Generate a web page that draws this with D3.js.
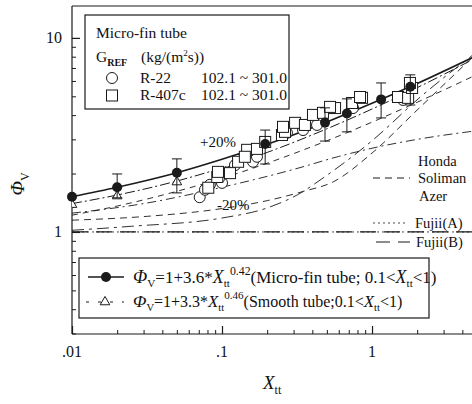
<!DOCTYPE html>
<html><head><meta charset="utf-8">
<script src="https://cdn.jsdelivr.net/npm/d3@7"></script>
<style>
body{margin:0;background:#fff}
svg{display:block}
text{font-family:"Liberation Serif","DejaVu Serif",serif;fill:#111}
</style>
</head><body>
<svg id="c" width="472" height="404"></svg>
<script>
// ---- tick labels ----
const xTickValues = [0.01, 0.1, 1];
const xTickLabels = [".01", ".1", "1"];
const yTickValues = [1, 10];
const yTickLabels = ["1", "10"];

// ---- correlation curves ----
const microX = [0.01, 0.02, 0.05, 0.1, 0.2, 0.5, 1, 2, 4.64];
const microY = [1.52, 1.70, 2.02, 2.37, 2.83, 3.69, 4.6, 5.82, 7.9];
const smoothX = [0.01, 0.02, 0.05, 0.1, 0.2, 0.5, 1, 2, 4.64];
const smoothY = [1.40, 1.55, 1.83, 2.14, 2.57, 3.40, 4.3, 5.54, 7.7];
const minus20X = [0.01, 0.02, 0.05, 0.1, 0.2, 0.5, 1, 2, 4.64];
const minus20Y = [1.22, 1.36, 1.62, 1.89, 2.26, 2.95, 3.68, 4.66, 6.3];
const hondaX = [0.01, 0.03, 0.1, 0.3, 0.6, 1, 2, 4.64];
const hondaY = [1.25, 1.40, 1.70, 2.10, 2.45, 2.70, 3.0, 3.3];
const solimanX = [0.01, 0.03, 0.1, 0.2, 0.35, 0.55, 1, 2, 4.64];
const solimanY = [1.15, 1.20, 1.32, 1.45, 1.62, 1.81, 2.55, 4.25, 7.9];
const azerX = [0.01, 0.025, 0.1, 0.2, 0.34, 0.45, 1, 2.1, 4.64];
const azerY = [1.02, 1.07, 1.18, 1.33, 1.60, 1.85, 2.95, 4.96, 8.1];
const fujiiAX = [0.01, 4.64];
const fujiiAY = [1.0, 1.0];
const fujiiBX = [0.01, 4.64];
const fujiiBY = [1.0, 1.0];

// ---- averaged points with error bars (micro-fin) ----
const markX = [0.01, 0.02, 0.05, 0.194, 0.486, 0.68, 1.15, 1.8];
const markY = [1.52, 1.70, 2.02, 2.84, 3.66, 4.08, 4.82, 5.6];
const errLo = [1.52, 1.50, 1.59, 2.24, 2.94, 3.28, 3.87, 4.51];
const errHi = [1.52, 1.99, 2.38, 3.35, 4.36, 4.85, 5.86, 6.45];
// smooth-tube triangles
const triX = [0.01, 0.02, 0.05];
const triY = [1.40, 1.55, 1.83];

// ---- experimental data ----
const r22X = [0.071, 0.077, 0.083, 0.10, 0.097, 0.113, 0.122, 0.128, 0.161, 0.171, 0.271, 0.347, 0.43, 0.747, 1.61];
const r22Y = [1.51, 1.65, 1.75, 1.79, 1.92, 2.04, 2.21, 2.35, 2.30, 2.44, 3.24, 3.35, 3.56, 4.35, 4.79];
const r407X = [0.081, 0.093, 0.094, 0.113, 0.128, 0.147, 0.142, 0.171, 0.194, 0.251, 0.263, 0.255, 0.307, 0.357, 0.404, 0.471, 0.567, 0.525, 0.736, 0.858, 0.832, 1.49, 1.74, 1.85, 1.79];
const r407Y = [1.69, 1.92, 2.04, 2.01, 2.30, 2.65, 2.44, 2.68, 2.91, 3.16, 3.28, 3.48, 3.65, 3.56, 4.01, 4.11, 4.35, 4.41, 4.62, 4.91, 4.96, 4.96, 4.91, 5.52, 5.86];

const svg = d3.select("#c");
const L = 72, R = 472, T = 6, B = 334;
const x = d3.scaleLog().domain([0.01, 4.64]).range([L, R]);
const y = d3.scaleLog().domain([0.298, 14.6]).range([B, T]);

svg.append("clipPath").attr("id", "clip").append("rect")
  .attr("x", L).attr("y", T).attr("width", R - L).attr("height", B - T);

const ink = "#1a1a1a";
// frame
svg.append("line").attr("x1", L).attr("x2", L).attr("y1", T).attr("y2", B).attr("stroke", ink).attr("stroke-width", 1.2);
svg.append("line").attr("x1", L).attr("x2", R).attr("y1", B).attr("y2", B).attr("stroke", ink).attr("stroke-width", 1.2);
svg.append("line").attr("x1", L).attr("x2", R).attr("y1", T).attr("y2", T).attr("stroke", ink).attr("stroke-width", 1.2);

// y axis (ticks inward)
const yMinor = [];
[0.1, 1, 10].forEach(d => { for (let k = 2; k <= 9; k++) { const v = d * k; if (v >= 0.3 && v <= 14.6) yMinor.push(v); } });
const gy = svg.append("g").attr("transform", `translate(${L},0)`)
  .call(d3.axisRight(y).tickValues(yMinor).tickSize(4).tickFormat(""));
gy.select(".domain").remove();
gy.selectAll("line").attr("stroke", ink);
const gy2 = svg.append("g").attr("transform", `translate(${L},0)`)
  .call(d3.axisRight(y).tickValues(yTickValues).tickSize(8).tickFormat(""));
gy2.select(".domain").remove();
gy2.selectAll("line").attr("stroke", ink).attr("stroke-width", 1.2);
svg.selectAll(".ylab").data(yTickValues).enter().append("text")
  .attr("x", 62).attr("y", d => y(d) + 5).attr("text-anchor", "end")
  .attr("font-size", 16).text((d, i) => yTickLabels[i]);

// x axis (ticks inward)
const xMinor = [];
[0.01, 0.1, 1].forEach(d => { for (let k = 2; k <= 9; k++) { const v = d * k; if (v <= 4.64) xMinor.push(v); } });
const gx = svg.append("g").attr("transform", `translate(0,${B})`)
  .call(d3.axisTop(x).tickValues(xMinor).tickSize(4).tickFormat(""));
gx.select(".domain").remove();
gx.selectAll("line").attr("stroke", ink);
const gx2 = svg.append("g").attr("transform", `translate(0,${B})`)
  .call(d3.axisTop(x).tickValues(xTickValues).tickSize(8).tickFormat(""));
gx2.select(".domain").remove();
gx2.selectAll("line").attr("stroke", ink).attr("stroke-width", 1.2);
svg.selectAll(".xlab").data(xTickValues).enter().append("text")
  .attr("x", d => x(d)).attr("y", 357).attr("text-anchor", "middle")
  .attr("font-size", 16).text((d, i) => xTickLabels[i]);

// curves
const plot = svg.append("g").attr("clip-path", "url(#clip)");
const lineGen = d3.line().x(d => x(d[0])).y(d => y(d[1])).curve(d3.curveMonotoneX);
function curve(xs, ys, dash, w) {
  plot.append("path").datum(xs.map((v, i) => [v, ys[i]]))
    .attr("d", lineGen).attr("fill", "none").attr("stroke", ink)
    .attr("stroke-width", w).attr("stroke-dasharray", dash);
}
curve(fujiiAX, fujiiAY, "2,3", 0.8);
curve(fujiiBX, fujiiBY, "16,8", 1.2);
curve(azerX, azerY, "12,5,3,5", 0.9);
curve(solimanX, solimanY, "7,5", 0.9);
curve(hondaX, hondaY, "9,4,2,4", 0.9);
curve(minus20X, minus20Y, "6,5", 0.9);
curve(smoothX, smoothY, "10,3,2,3", 1.0);
curve(microX, microY, null, 1.6);

// data points
plot.selectAll(".r22").data(r22X).enter().append("circle")
  .attr("cx", d => x(d)).attr("cy", (d, i) => y(r22Y[i])).attr("r", 5.5)
  .attr("fill", "#fff").attr("stroke", ink).attr("stroke-width", 1);
plot.selectAll(".r407").data(r407X).enter().append("rect")
  .attr("x", d => x(d) - 5.5).attr("y", (d, i) => y(r407Y[i]) - 5.5)
  .attr("width", 11).attr("height", 11)
  .attr("fill", "#fff").attr("stroke", ink).attr("stroke-width", 1);

// triangles
const triSym = d3.symbol().type(d3.symbolTriangle).size(40);
plot.selectAll(".tri").data(triX).enter().append("path")
  .attr("d", triSym).attr("transform", (d, i) => `translate(${x(d)},${y(triY[i]) + 1})`)
  .attr("fill", "#fff").attr("stroke", ink).attr("stroke-width", 1);

// error bars
markX.forEach((d, i) => {
  if (errHi[i] === errLo[i]) return;
  const cx = x(d);
  plot.append("line").attr("x1", cx).attr("x2", cx).attr("y1", y(errHi[i])).attr("y2", y(errLo[i])).attr("stroke", ink).attr("stroke-width", 1);
  [errHi[i], errLo[i]].forEach(v => plot.append("line").attr("x1", cx - 5).attr("x2", cx + 5).attr("y1", y(v)).attr("y2", y(v)).attr("stroke", ink).attr("stroke-width", 1));
});
svg.selectAll(".mk").data(markX).enter().append("circle")
  .attr("cx", d => x(d)).attr("cy", (d, i) => y(markY[i])).attr("r", 5)
  .attr("fill", ink);

// legend 1
const lg1 = svg.append("g");
lg1.append("rect").attr("x", 85).attr("y", 15).attr("width", 204).attr("height", 94)
  .attr("fill", "#fff").attr("stroke", ink).attr("stroke-width", 1.2);
lg1.append("text").attr("x", 96).attr("y", 38).attr("font-size", 15.5).text("Micro-fin tube");
const g2 = lg1.append("text").attr("x", 96).attr("y", 62).attr("font-size", 15.5);
g2.append("tspan").text("G");
g2.append("tspan").attr("font-size", 10).attr("dy", 4).attr("font-weight", "bold").text("REF");
g2.append("tspan").attr("dy", -4).attr("x", 141).text("(kg/(m");
g2.append("tspan").attr("font-size", 9).attr("dy", -6).text("2");
g2.append("tspan").attr("dy", 6).text("s))");
lg1.append("circle").attr("cx", 112).attr("cy", 78).attr("r", 5.5).attr("fill", "#fff").attr("stroke", ink);
lg1.append("text").attr("x", 140).attr("y", 83).attr("font-size", 15.5).text("R-22");
lg1.append("text").attr("x", 201).attr("y", 83).attr("font-size", 15.5).text("102.1 ~ 301.0");
lg1.append("rect").attr("x", 106.5).attr("y", 90).attr("width", 11).attr("height", 11).attr("fill", "#fff").attr("stroke", ink);
lg1.append("text").attr("x", 140).attr("y", 100).attr("font-size", 15.5).text("R-407c");
lg1.append("text").attr("x", 201).attr("y", 100).attr("font-size", 15.5).text("102.1 ~ 301.0");

// percentage labels
svg.append("text").attr("x", 200).attr("y", 147).attr("font-size", 15).text("+20%");
svg.append("text").attr("x", 217).attr("y", 210).attr("font-size", 15).text("-20%");

// right-side labels and samples
const rl = [["Honda", 418, 166], ["Soliman", 418, 183], ["Azer", 419, 201], ["Fujii(A)", 415, 228], ["Fujii(B)", 416, 247]];
rl.forEach(r => svg.append("text").attr("x", r[1]).attr("y", r[2]).attr("font-size", 14.5).text(r[0]));
svg.append("line").attr("x1", 373).attr("x2", 410).attr("y1", 178).attr("y2", 178).attr("stroke", ink).attr("stroke-dasharray", "7,5");
svg.append("line").attr("x1", 373).attr("x2", 405).attr("y1", 223).attr("y2", 223).attr("stroke", ink).attr("stroke-dasharray", "2,3").attr("stroke-width", 0.8);
svg.append("line").attr("x1", 376).attr("x2", 410).attr("y1", 242).attr("y2", 242).attr("stroke", ink).attr("stroke-dasharray", "14,8");

// legend 2
const lg2 = svg.append("g");
lg2.append("rect").attr("x", 79).attr("y", 258).attr("width", 350).attr("height", 60)
  .attr("fill", "#fff").attr("stroke", ink).attr("stroke-width", 1.2);
lg2.append("line").attr("x1", 88).attr("x2", 124).attr("y1", 277).attr("y2", 277).attr("stroke", ink).attr("stroke-width", 1.4);
lg2.append("circle").attr("cx", 106).attr("cy", 277).attr("r", 5).attr("fill", ink);
lg2.append("line").attr("x1", 86).attr("x2", 124).attr("y1", 302).attr("y2", 302).attr("stroke", ink).attr("stroke-dasharray", "3,9");
lg2.append("path").attr("d", triSym).attr("transform", "translate(105,302)").attr("fill", "#fff").attr("stroke", ink);

function eqText(yy, fs, coef, expo, tail) {
  const sub = fs * 0.66;
  const t = lg2.append("text").attr("x", 133).attr("y", yy).attr("font-size", fs);
  t.append("tspan").attr("font-style", "italic").attr("font-size", fs * 1.1).text("Φ");
  t.append("tspan").attr("font-size", sub).attr("dy", 4).text("V");
  t.append("tspan").attr("dy", -4).text("=1+" + coef + "*");
  t.append("tspan").attr("font-style", "italic").attr("font-size", fs * 1.05).text("X");
  t.append("tspan").attr("font-size", sub).attr("dy", 4).text("tt");
  t.append("tspan").attr("font-size", sub * 1.05).attr("dy", -12).text(expo);
  t.append("tspan").attr("dy", 8).text(tail);
  t.append("tspan").attr("font-style", "italic").attr("font-size", fs * 1.05).text("X");
  t.append("tspan").attr("font-size", sub).attr("dy", 4).text("tt");
  t.append("tspan").attr("dy", -4).text("<1)");
}
eqText(283, 17, "3.6", "0.42", "(Micro-fin tube; 0.1<");
eqText(307, 16, "3.3", "0.46", "(Smooth tube;0.1<");

// axis titles
const yt = svg.append("text").attr("transform", "translate(24,184) rotate(-90)").attr("text-anchor", "middle").attr("font-size", 19);
yt.append("tspan").attr("font-style", "italic").text("Φ");
yt.append("tspan").attr("font-size", 12).attr("dy", 5).text("V");
const xt = svg.append("text").attr("x", 263).attr("y", 389).attr("font-size", 19);
xt.append("tspan").attr("font-style", "italic").text("X");
xt.append("tspan").attr("font-size", 12).attr("dy", 5).text("tt");
</script>
</body></html>
